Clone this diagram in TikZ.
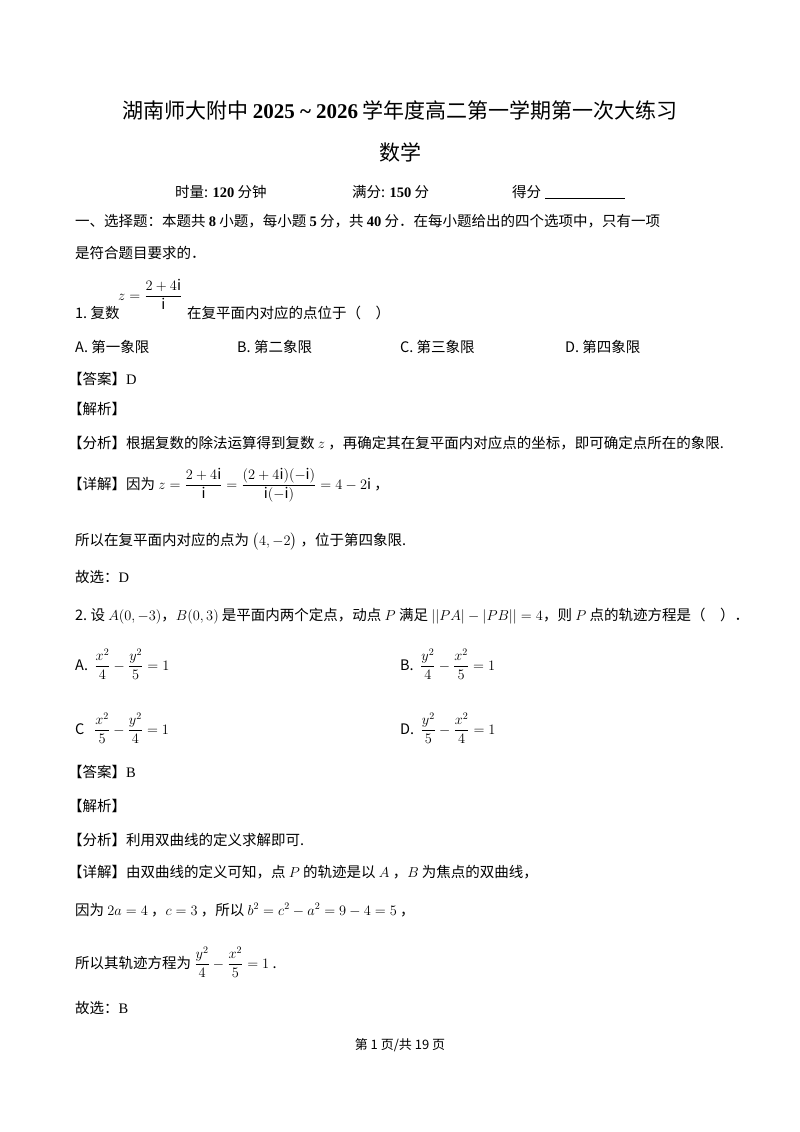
\documentclass[tikz,border=0pt]{standalone}
\usepackage{amsmath}
\usepackage{fontspec}
\setmainfont{Noto Sans CJK SC}
\newfontfamily\lat{Liberation Serif}
\begin{document}
\begin{tikzpicture}[x=1pt,y=-1pt,
  t/.style={anchor=base west,inner sep=0pt,font=\fontsize{14.5}{17}\selectfont},
  c/.style={anchor=base,inner sep=0pt,font=\fontsize{21}{24}\selectfont}]
\useasboundingbox[fill=white] (0,0) rectangle (800,1132);
\node[c] (title) at (400,118) {湖南师大附中 {\lat\bfseries 2025 \textasciitilde{} 2026} 学年度高二第一学期第一次大练习};
\node[c] (sub) at (400,160) {数学};
\node[t] (tl) at (175,197) {时量: {\lat\bfseries 120} 分钟};
\node[t] (mf) at (352,197) {满分: {\lat\bfseries 150} 分};
\node[t] (df) at (512,197) {得分};
\draw[line width=1pt] (545,198) -- (625,198);
\node[t] (s1) at (75,226) {一、选择题：本题共 {\lat\bfseries 8} 小题，每小题 {\lat\bfseries 5} 分，共 {\lat\bfseries 40} 分．在每小题给出的四个选项中，只有一项};
\node[t] (s2) at (75,258) {是符合题目要求的．};
\node[t] (q1m) at (118,300) {$z=\dfrac{2+4\mathrm{i}}{\mathrm{i}}$};
\node[t] (q1) at (75,318) {1.\ 复数};
\node[t] (q1b) at (187,318) {在复平面内对应的点位于（\quad）};
\node[t] (a1) at (75,352) {A.\ 第一象限};
\node[t] (b1) at (237,352) {B.\ 第二象限};
\node[t] (c1) at (400,352) {C.\ 第三象限};
\node[t] (d1) at (565,352) {D.\ 第四象限};
\node[t] (da1) at (68,384) {【答案】{\lat D}};
\node[t] (jx1) at (68,414) {【解析】};
\node[t] (fx1) at (68,448) {【分析】根据复数的除法运算得到复数 $z$ ，再确定其在复平面内对应点的坐标，即可确定点所在的象限.};
\node[t] (xj1) at (68,489) {【详解】因为 $z=\dfrac{2+4\mathrm{i}}{\mathrm{i}}=\dfrac{(2+4\mathrm{i})(-\mathrm{i})}{\mathrm{i}(-\mathrm{i})}=4-2\mathrm{i}$ ，};
\node[t] (so1) at (75,545) {所以在复平面内对应的点为 $\big(4,-2\big)$ ，位于第四象限.};
\node[t] (gx1) at (75,582) {故选：{\lat D}};
\node[t] (q2) at (75,620) {2.\ 设 $A(0,-3)$，$B(0,3)$ 是平面内两个定点，动点 $P$ 满足 $||PA|-|PB||=4$，则 $P$ 点的轨迹方程是（\quad）．};
\node[t] (a2) at (75,670) {A.\ \ $\dfrac{x^2}{4}-\dfrac{y^2}{5}=1$};
\node[t] (b2) at (400,670) {B.\ \ $\dfrac{y^2}{4}-\dfrac{x^2}{5}=1$};
\node[t] (c2) at (75,734) {C\ \ \ $\dfrac{x^2}{5}-\dfrac{y^2}{4}=1$};
\node[t] (d2) at (400,734) {D.\ \ $\dfrac{y^2}{5}-\dfrac{x^2}{4}=1$};
\node[t] (da2) at (68,777) {【答案】{\lat B}};
\node[t] (jx2) at (68,811) {【解析】};
\node[t] (fx2) at (68,845) {【分析】利用双曲线的定义求解即可.};
\node[t] (xj2) at (68,877) {【详解】由双曲线的定义可知，点 $P$ 的轨迹是以 $A$ ，$B$ 为焦点的双曲线，};
\node[t] (yw2) at (75,915) {因为 $2a=4$ ，$c=3$ ，所以 $b^2=c^2-a^2=9-4=5$ ，};
\node[t] (so2) at (75,968) {所以其轨迹方程为 $\dfrac{y^2}{4}-\dfrac{x^2}{5}=1$ .};
\node[t] (gx2) at (75,1013) {故选：{\lat B}};
\node[anchor=base,inner sep=0pt,font=\fontsize{13}{15}\selectfont] (ft) at (400,1049) {第 1 页/共 19 页};
\end{tikzpicture}
\end{document}
